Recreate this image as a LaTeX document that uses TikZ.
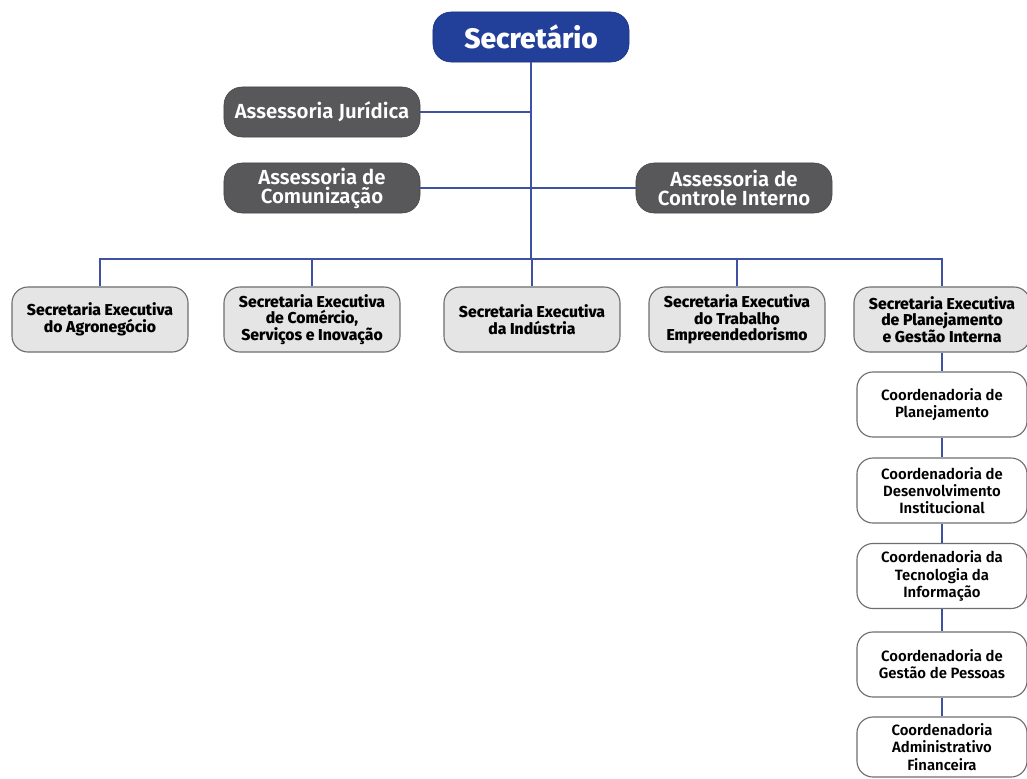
\documentclass[tikz,border=0pt]{standalone}
\usepackage{fontspec}
\setmainfont{Fira Sans}
\newfontfamily\medfont{Fira Sans SemiBold}
\newfontfamily\heavyfont{Fira Sans ExtraBold}
\usetikzlibrary{positioning}
\definecolor{chefe}{HTML}{22409A}
\definecolor{linha}{HTML}{3E51A3}
\definecolor{assess}{HTML}{58585A}
\definecolor{secex}{HTML}{E5E5E5}
\definecolor{borda}{HTML}{6E6E6E}

\begin{document}
\begin{tikzpicture}[x=0.025cm,y=-0.025cm,
    topo/.style={draw=chefe!80!black, fill=chefe, rounded corners=0.45cm,
                 minimum width=4.9cm, minimum height=1.25cm, text=white,
                 font=\heavyfont\fontsize{20}{22}\selectfont},
    assessoria/.style={draw=assess!80!black, fill=assess, rounded corners=0.45cm,
                 minimum width=4.9cm, minimum height=1.25cm, text=white, align=center,
                 inner xsep=1pt, font=\medfont\fontsize{14.5}{13.5}\selectfont},
    secretaria/.style={draw=borda, fill=secex, rounded corners=0.4cm, thick,
                 minimum width=4.4cm, minimum height=1.625cm, align=center,
                 inner xsep=1pt, font=\heavyfont\fontsize{11.2}{11.8}\selectfont},
    coord/.style={draw=borda, fill=white, rounded corners=0.4cm, thick,
                 minimum width=4.25cm, minimum height=1.625cm, align=center,
                 inner xsep=1pt, font=\medfont\fontsize{10.6}{12.2}\selectfont},
    liga/.style={draw=linha, line width=1.1pt}]

\useasboundingbox (0,0) rectangle (1027,778);

%chefe
\node [topo] (sec) at (531,37) {Secretário};

%assessorias
\node [assessoria] (jur) at (322,112) {Assessoria Jurídica};
\node [assessoria] (com) at (322,188) {Assessoria de\\Comunização};
\node [assessoria] (ctrl) at (734,188) {Assessoria de\\Controle Interno};

%secretarias executivas
\node [secretaria] (agro) at (100,319.5) {Secretaria Executiva\\do Agronegócio};
\node [secretaria] (comerc) at (312,319.5) {Secretaria Executiva\\de Comércio,\\Serviços e Inovação};
\node [secretaria] (ind) at (532,319.5) {Secretaria Executiva\\da Indústria};
\node [secretaria] (trab) at (737,319.5) {Secretaria Executiva\\do Trabalho\\Empreendedorismo};
\node [secretaria] (plan) at (942,319.5) {Secretaria Executiva\\de Planejamento\\e Gestão Interna};

%coordenadorias
\node [coord] (cplan) at (942,404.5) {Coordenadoria de\\Planejamento};
\node [coord] (cdes) at (942,490.5) {Coordenadoria de\\Desenvolvimento\\Institucional};
\node [coord] (ctec) at (942,576) {Coordenadoria da\\Tecnologia da\\Informação};
\node [coord] (cpes) at (942,664.5) {Coordenadoria de\\Gestão de Pessoas};
\node [coord, minimum height=1.5cm] (cadm) at (942,747) {Coordenadoria\\Administrativo\\Financeira};

%ligacoes
\coordinate (hub) at (531,259);
\draw [liga] (sec) -- (hub);
\draw [liga] (jur.east) -- (jur.east -| hub);
\draw [liga] (com) -- (ctrl);
\draw [liga] (agro.north) -- (agro.north |- hub) -- (plan.north |- hub) -- (plan.north);
\foreach \s in {comerc,ind,trab}
  \draw [liga] (\s.north) -- (\s.north |- hub);
\foreach \a/\b in {plan/cplan,cplan/cdes,cdes/ctec,ctec/cpes,cpes/cadm}
  \draw [liga] (\a) -- (\b);

\end{tikzpicture}
\end{document}
